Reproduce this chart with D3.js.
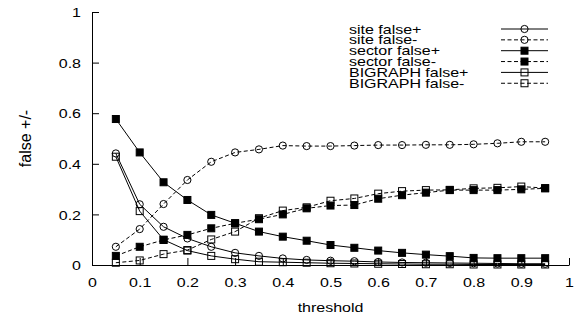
<!DOCTYPE html>
<html>
<head>
<meta charset="utf-8">
<script src="https://cdn.jsdelivr.net/npm/d3@7/dist/d3.min.js"></script>
<style>
  html, body { margin: 0; padding: 0; background: #fff; }
  svg { display: block; }
  text { font-family: "Liberation Sans", Arial, Helvetica, sans-serif; fill: #000; }
</style>
</head>
<body>
<svg id="chart" width="576" height="318"></svg>
<script>
// ---- data ----
const thresholds = [0.05, 0.10, 0.15, 0.20, 0.25, 0.30, 0.35, 0.40, 0.45, 0.50,
                    0.55, 0.60, 0.65, 0.70, 0.75, 0.80, 0.85, 0.90, 0.95];
const siteFalsePos   = [0.441, 0.240, 0.151, 0.105, 0.072, 0.048, 0.036, 0.026, 0.020, 0.017,
                        0.015, 0.012, 0.010, 0.009, 0.008, 0.007, 0.006, 0.005, 0.005];
const siteFalseNeg   = [0.072, 0.142, 0.241, 0.336, 0.408, 0.445, 0.457, 0.472, 0.470, 0.470,
                        0.472, 0.474, 0.474, 0.475, 0.475, 0.477, 0.481, 0.487, 0.487];
const sectorFalsePos = [0.577, 0.445, 0.327, 0.257, 0.198, 0.165, 0.132, 0.112, 0.096, 0.079,
                        0.068, 0.057, 0.048, 0.041, 0.035, 0.028, 0.027, 0.027, 0.027];
const sectorFalseNeg = [0.036, 0.072, 0.099, 0.119, 0.145, 0.165, 0.181, 0.200, 0.224, 0.235,
                        0.237, 0.262, 0.276, 0.286, 0.296, 0.296, 0.296, 0.299, 0.303];
const bigraphFalsePos = [0.428, 0.213, 0.100, 0.057, 0.036, 0.023, 0.013, 0.011, 0.009, 0.007,
                         0.006, 0.005, 0.004, 0.003, 0.003, 0.002, 0.002, 0.002, 0.002];
const bigraphFalseNeg = [0.009, 0.018, 0.043, 0.059, 0.101, 0.132, 0.185, 0.215, 0.228, 0.254,
                         0.263, 0.282, 0.292, 0.296, 0.297, 0.303, 0.305, 0.310, 0.304];

const seriesNames = ["site false+", "site false-", "sector false+", "sector false-",
                     "BIGRAPH false+", "BIGRAPH false-"];
const xTickValues = [0, 0.1, 0.2, 0.3, 0.4, 0.5, 0.6, 0.7, 0.8, 0.9, 1];
const xTickLabels = ["0", "0.1", "0.2", "0.3", "0.4", "0.5", "0.6", "0.7", "0.8", "0.9", "1"];
const yTickValues = [0, 0.2, 0.4, 0.6, 0.8, 1];
const yTickLabels = ["0", "0.2", "0.4", "0.6", "0.8", "1"];
const xTitle = "threshold";
const yTitle = "false +/-";

// ---- styles ----
const styles = [
  { dash: null,    marker: "circle", fill: "none" },
  { dash: "4,2.5", marker: "circle", fill: "none" },
  { dash: null,    marker: "square", fill: "#000" },
  { dash: "4,2.5", marker: "square", fill: "#000" },
  { dash: null,    marker: "square", fill: "none" },
  { dash: "4,2.5", marker: "square", fill: "none" }
];
const seriesValues = [siteFalsePos, siteFalseNeg, sectorFalsePos, sectorFalseNeg,
                      bigraphFalsePos, bigraphFalseNeg];

const plot = { left: 92, right: 569, top: 12, bottom: 265 };
const FS = 16, VS = 0.8;

const svg = d3.select("#chart");
const x = d3.scaleLinear().domain([0, 1]).range([plot.left, plot.right]);
const y = d3.scaleLinear().domain([0, 1]).range([plot.bottom, plot.top]);

// axes
const xAxis = d3.axisBottom(x).tickValues(xTickValues)
  .tickFormat((d, i) => xTickLabels[i]).tickSizeInner(-7).tickSizeOuter(0);
const yAxis = d3.axisLeft(y).tickValues(yTickValues)
  .tickFormat((d, i) => yTickLabels[i]).tickSizeInner(-7).tickSizeOuter(0);

const gx = svg.append("g").attr("transform", `translate(0,${plot.bottom})`).call(xAxis);
const gy = svg.append("g").attr("transform", `translate(${plot.left},0)`).call(yAxis);
[gx, gy].forEach(g => {
  g.selectAll("path.domain").attr("stroke", "#000").attr("stroke-width", 1);
  g.selectAll(".tick line").attr("stroke", "#000").attr("stroke-width", 1);
  g.attr("font-family", null).attr("font-size", null);
});
gx.selectAll(".tick text")
  .attr("x", 0).attr("y", 0).attr("dy", null)
  .attr("font-size", FS)
  .attr("text-anchor", "middle")
  .attr("transform", `translate(0,22) scale(1,${VS})`);
gy.selectAll(".tick text")
  .attr("x", 0).attr("y", 0).attr("dy", null)
  .attr("font-size", FS)
  .attr("text-anchor", "end")
  .attr("transform", `translate(-11,4.6) scale(1,${VS})`);

// axis titles
svg.append("text")
  .attr("font-size", FS).attr("text-anchor", "middle")
  .attr("transform", `translate(${(plot.left + plot.right) / 2},312) scale(1,${VS})`)
  .text(xTitle);
svg.append("text")
  .attr("font-size", FS).attr("text-anchor", "middle")
  .attr("transform", `translate(31,${(plot.top + plot.bottom) / 2}) rotate(-90)`)
  .text(yTitle);

// markers
function drawMarker(g, cx, cy, st) {
  if (st.marker === "circle") {
    g.append("circle").attr("cx", cx).attr("cy", cy).attr("r", 3.6)
      .attr("fill", st.fill).attr("stroke", "#000").attr("stroke-width", 1);
  } else {
    const s = 7;
    g.append("rect").attr("x", cx - s / 2).attr("y", cy - s / 2)
      .attr("width", s).attr("height", s)
      .attr("fill", st.fill).attr("stroke", "#000").attr("stroke-width", 1);
  }
}

const line = d3.line().x(d => x(d[0])).y(d => y(d[1]));

seriesValues.forEach((vals, i) => {
  const st = styles[i];
  const pts = thresholds.map((t, j) => [t, vals[j]]);
  const g = svg.append("g");
  g.append("path").datum(pts).attr("d", line)
    .attr("fill", "none").attr("stroke", "#000").attr("stroke-width", 1)
    .attr("stroke-dasharray", st.dash);
  pts.forEach(p => drawMarker(g, x(p[0]), y(p[1]), st));
});

// legend
const legendX = 349, legendY0 = 29, legendDY = 10.85;
const sampleX1 = 501, sampleX2 = 548;
seriesNames.forEach((name, i) => {
  const st = styles[i];
  const cy = legendY0 + i * legendDY;
  const g = svg.append("g");
  g.append("text").attr("font-size", FS)
    .attr("transform", `translate(${legendX},${cy + 4.5}) scale(1,${VS})`)
    .text(name);
  g.append("line").attr("x1", sampleX1).attr("x2", sampleX2)
    .attr("y1", cy).attr("y2", cy)
    .attr("stroke", "#000").attr("stroke-width", 1)
    .attr("stroke-dasharray", st.dash);
  drawMarker(g, (sampleX1 + sampleX2) / 2, cy, st);
});
</script>
</body>
</html>
